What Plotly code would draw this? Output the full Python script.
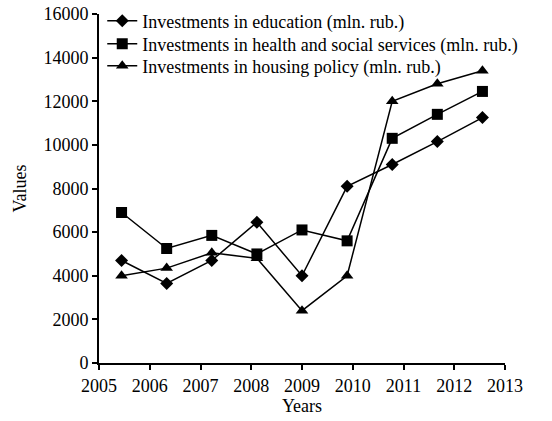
import plotly.graph_objects as go

periods = ["2005", "2006", "2007", "2008", "2009", "2010", "2011", "2012", "2013"]
education = [4700, 3650, 4700, 6450, 4000, 8100, 9100, 10150, 11250]
health = [6900, 5250, 5850, 5000, 6100, 5600, 10300, 11400, 12450]
housing = [4000, 4350, 5050, 4800, 2400, 4000, 12000, 12800, 13400]

names = [
    "Investments in education (mln. rub.)",
    "Investments in health and social services (mln. rub.)",
    "Investments in housing policy (mln. rub.)",
]
symbols = ["diamond", "square", "triangle-up"]
sizes = [10, 11, 11]

tick_years = [2005, 2006, 2007, 2008, 2009, 2010, 2011, 2012, 2013]
y_ticks = [0, 2000, 4000, 6000, 8000, 10000, 12000, 14000, 16000]

FONT = "Liberation Serif, Times New Roman, serif"
legend_ids = ["legend", "legend2", "legend3"]
legend_y = [1.033, 0.967, 0.904]

fig = go.Figure()
for vals, name, sym, sz, lg in zip([education, health, housing], names, symbols, sizes, legend_ids):
    fig.add_trace(go.Scatter(
        x=periods, y=vals, name=name, mode="lines+markers",
        line=dict(color="black", width=1.5),
        marker=dict(symbol=sym, size=sz, color="black"),
        xaxis="x", yaxis="y", legend=lg,
    ))

# invisible trace to carry the linear year axis
fig.add_trace(go.Scatter(x=tick_years, y=[None] * len(tick_years), xaxis="x2", yaxis="y",
                         showlegend=False, hoverinfo="skip", mode="markers"))

legend_style = dict(x=0.008, xanchor="left", yanchor="top",
                    bgcolor="rgba(0,0,0,0)", font=dict(size=18, family=FONT))

fig.update_layout(
    width=552, height=421,
    margin=dict(l=99, r=47, t=14, b=58, autoexpand=False),
    paper_bgcolor="white", plot_bgcolor="white",
    font=dict(family=FONT, size=18, color="black"),
    showlegend=True,
    hovermode=False,
    legend=dict(y=legend_y[0], **legend_style),
    legend2=dict(y=legend_y[1], **legend_style),
    legend3=dict(y=legend_y[2], **legend_style),
    xaxis=dict(type="category", range=[-0.5, 8.5], visible=False, fixedrange=True),
    xaxis2=dict(type="linear", range=[2005, 2013], overlaying="x", side="bottom",
                anchor="y", tickvals=tick_years, ticks="outside", ticklen=5,
                tickwidth=1.5, tickcolor="black", showline=True, linecolor="black",
                linewidth=2, showgrid=False, zeroline=False, tickformat="d",
                ticklabeloverflow="allow",
                title=dict(text="Years", font=dict(size=18, family=FONT), standoff=4),
                tickfont=dict(size=18, family=FONT)),
    yaxis=dict(range=[0, 16000], tickvals=y_ticks, ticks="outside", ticklen=5,
               tickwidth=1.5, tickcolor="black", showline=True, linecolor="black",
               linewidth=2, showgrid=False, zeroline=False, tickformat="d",
               ticklabeloverflow="allow",
               title=dict(text="Values", font=dict(size=18, family=FONT), standoff=12),
               tickfont=dict(size=18, family=FONT)),
)

fig.write_html("out.html", config={"displayModeBar": False},
               post_script="document.body.style.margin='0';")
